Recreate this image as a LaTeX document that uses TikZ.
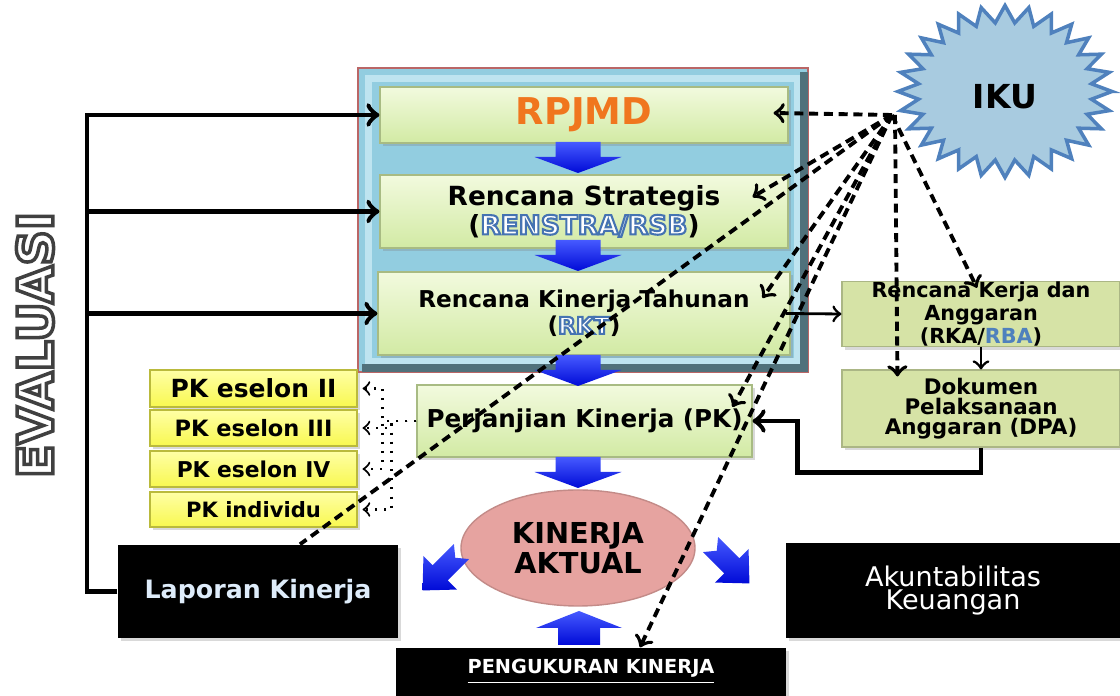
\documentclass[tikz,border=0pt]{standalone}
\usepackage{fontspec}
\setmainfont{DejaVu Sans}
\newcommand{\hollowtext}[2]{{\color{white}\special{pdf:literal direct 2 Tr #1}#2\special{pdf:literal direct 0 Tr}}}
\definecolor{evalframe}{RGB}{146,205,224}
\definecolor{evalframein}{RGB}{190,228,240}
\definecolor{planlight}{RGB}{242,250,222}
\definecolor{plandark}{RGB}{210,234,164}
\definecolor{budgetgreen}{RGB}{214,227,166}
\definecolor{pkyellow}{RGB}{248,248,80}
\definecolor{pkyellowlight}{RGB}{255,255,165}
\definecolor{kinerjapink}{RGB}{230,163,160}
\definecolor{ikublue}{RGB}{168,203,224}
\definecolor{ikuline}{RGB}{79,129,189}
\definecolor{rpjmdorange}{RGB}{240,118,30}
\definecolor{rbablue}{RGB}{79,129,189}
\definecolor{arrowtop}{RGB}{70,90,255}
\definecolor{arrowbottom}{RGB}{0,10,215}
\definecolor{reportblue}{RGB}{222,236,250}
\usetikzlibrary{shapes,arrows,positioning,calc,shadows}

\begin{document}
\begin{tikzpicture}[
    every node/.style={align=center, inner sep=0pt},
    soft shadow/.style={drop shadow={opacity=0.3, shadow xshift=0.03cm, shadow yshift=-0.03cm}},
    frame/.style={fill=evalframe, draw=red!55!black!60, line width=0.6pt, minimum width=4.5cm, minimum height=3.04cm},
    planbox/.style={soft shadow, top color=planlight, bottom color=plandark, draw=plandark!80!black, line width=0.3pt, minimum width=4.08cm},
    budgetbox/.style={soft shadow, fill=budgetgreen, draw=budgetgreen!80!black, line width=0.3pt, minimum width=2.78cm},
    pkbox/.style={soft shadow, top color=pkyellowlight, bottom color=pkyellow, draw=pkyellow!75!black, line width=0.3pt, minimum width=2.07cm},
    reportbox/.style={soft shadow, fill=black},
    bluearrow/.style={top color=arrowtop, bottom color=arrowbottom},
    evline/.style={line width=1.4pt, ->},
    ikulink/.style={line width=1.1pt, dash pattern=on 2.6pt off 1.6pt, ->},
    pkdot/.style={line width=0.6pt, dotted, ->}
]
    \useasboundingbox (0,0) rectangle (11.2,6.96);

    \node[frame] (frame) at (5.83,4.76) {};
    \draw[evalframein, line width=2pt] ($(frame.south west)+(0.12,0.12)$) rectangle ($(frame.north east)+(-0.12,-0.12)$);
    \draw[evalframe!55!black, line width=2.5pt] ($(frame.north east)+(-0.05,-0.05)$) -- ($(frame.south east)+(-0.05,0.05)$) -- ($(frame.south west)+(0.05,0.05)$);

    \node[planbox, minimum height=0.56cm, text=rpjmdorange, font={\bfseries\fontsize{10.5}{12}\selectfont}] (rpjmd) at (5.84,5.81) {RPJMD};
    \node[planbox, minimum height=0.73cm, font={\bfseries\fontsize{7.5}{7.3}\selectfont}] (renstra) at (5.84,4.845)
        {Rencana Strategis\\(\hollowtext{0.6 w 0.27 0.45 0.70 RG}{RENSTRA/RSB})};
    \node[planbox, minimum width=4.12cm, minimum height=0.83cm, font={\bfseries\fontsize{6.6}{6.4}\selectfont}] (rkt) at (5.84,3.825)
        {Rencana Kinerja Tahunan\\(\hollowtext{0.6 w 0.27 0.45 0.70 RG}{RKT})};
    \node[planbox, minimum width=3.35cm, minimum height=0.72cm, font={\bfseries\fontsize{7}{8}\selectfont}] (pk) at (5.845,2.75)
        {Perjanjian Kinerja (PK)};

    \foreach \y in {5.54,4.56,3.41,2.39}
        \shade[bluearrow] (5.555,\y) -- ++(0.45,0) -- ++(0,-0.15) -- ++(0.21,0) -- ++(-0.435,-0.16) -- ++(-0.435,0.16) -- ++(0.21,0) -- cycle;

    \node[ellipse, fill=kinerjapink, draw=kinerjapink!85!black, line width=0.4pt, minimum width=2.34cm, minimum height=1.16cm,
        font={\bfseries\fontsize{8.2}{7.1}\selectfont}] (aktual) at (5.78,1.48) {KINERJA\\AKTUAL};

    \node[reportbox, minimum width=2.8cm, minimum height=0.93cm, text=reportblue, font={\bfseries\fontsize{7.2}{8}\selectfont}] (laporan) at (2.58,1.045) {Laporan Kinerja};
    \node[reportbox, minimum width=3.34cm, minimum height=0.95cm, text=white, font={\fontsize{7.7}{6.8}\selectfont}] (akuntabilitas) at (9.53,1.055) {Akuntabilitas\\Keuangan};
    \node[reportbox, minimum width=3.9cm, minimum height=0.48cm, text=white, font={\bfseries\fontsize{5.5}{6}\selectfont}] (pengukuran) at (5.91,0.24) {\underline{PENGUKURAN KINERJA}};

    \shade[bluearrow] (5.58,0.51) -- ++(0.42,0) -- ++(0,0.17) -- ++(0.22,0) -- ++(-0.43,0.17) -- ++(-0.43,-0.17) -- ++(0.22,0) -- cycle;
    \begin{scope}[shift={(4.42,1.25)}, rotate=-135, scale=1.25]
        \shade[bluearrow] (-0.22,0.085) -- (0.02,0.085) -- (0.02,0.19) -- (0.22,0) -- (0.02,-0.19) -- (0.02,-0.085) -- (-0.22,-0.085) -- (-0.15,0) -- cycle;
    \end{scope}
    \begin{scope}[shift={(7.30,1.32)}, rotate=-45, scale=1.25]
        \shade[bluearrow] (-0.22,0.085) -- (0.02,0.085) -- (0.02,0.19) -- (0.22,0) -- (0.02,-0.19) -- (0.02,-0.085) -- (-0.22,-0.085) -- (-0.15,0) -- cycle;
    \end{scope}

    \node[budgetbox, minimum height=0.62cm, font={\bfseries\fontsize{5.9}{4.8}\selectfont}] (rka) at (9.81,3.82)
        {Rencana Kerja dan\\Anggaran\\(RKA/{\color{rbablue}RBA})};
    \node[budgetbox, minimum height=0.77cm, font={\bfseries\fontsize{6.1}{5.6}\selectfont}] (dpa) at (9.81,2.875)
        {Dokumen\\Pelaksanaan\\Anggaran (DPA)};

    \node[pkbox, minimum height=0.37cm, font={\bfseries\fontsize{7.1}{8}\selectfont}] (eselon2) at (2.535,3.075) {PK eselon II};
    \node[pkbox, minimum height=0.36cm, font={\bfseries\fontsize{6.4}{7}\selectfont}] (eselon3) at (2.535,2.68) {PK eselon III};
    \node[pkbox, minimum height=0.36cm, font={\bfseries\fontsize{6.2}{7}\selectfont}] (eselon4) at (2.535,2.27) {PK eselon IV};
    \node[pkbox, minimum height=0.35cm, font={\bfseries\fontsize{6}{7}\selectfont}] (individu) at (2.535,1.865) {PK individu};

    \node[rotate=90, font={\bfseries\fontsize{14}{16}\selectfont}] (evaluasi) at (0.35,3.51)
        {\hollowtext{1 w 0.25 0.25 0.25 RG}{EVALUASI}};

    \filldraw[fill=ikublue, draw=ikuline, line width=1pt] (11.12,6.045)
        \foreach \k in {0,...,27} { -- ($(10.05,6.045)+({\k*360/28}:1.07 and 0.86)$) -- ($(10.05,6.045)+({(\k+0.5)*360/28}:0.87 and 0.69)$) } -- cycle;
    \node[font={\bfseries\fontsize{9.4}{11}\selectfont}] (iku) at (10.05,5.99) {IKU};
    \coordinate (ikuhub) at (8.92,5.81);

    \coordinate (evx) at (0.87,1.045);
    \draw[evline] (laporan.west) -- (evx) |- (rpjmd.west);
    \draw[evline] (evx) |- (renstra.west);
    \draw[evline] (evx) |- (rkt.west);

    \draw[line width=0.8pt, ->] ($(rkt.east)+(-0.05,0)$) -- (rka.west);
    \draw[line width=0.8pt, ->] (rka.south) -- (dpa.north);
    \draw[evline] (dpa.south) -- ++(0,-0.25) -| ($(pk.east)+(0.45,0)$) -- (pk.east);

    \draw[pkdot] (pk.west) -- ++(-0.34,0) |- ($(eselon2.east)+(0.05,0)$);
    \draw[pkdot] (pk.west) -- ++(-0.25,0) |- ($(eselon3.east)+(0.05,0)$);
    \draw[pkdot] (pk.west) -- ++(-0.34,0) |- ($(eselon4.east)+(0.05,0)$);
    \draw[pkdot] (pk.west) -- ++(-0.25,0) |- ($(individu.east)+(0.05,0)$);

    \draw[ikulink] (ikuhub) -- ($(rpjmd.east)+(-0.15,0.02)$);
    \draw[ikulink] (ikuhub) -- ($(renstra.east)+(-0.36,0.145)$);
    \draw[ikulink] (ikuhub) -- ($(rkt.east)+(-0.28,0.155)$);
    \draw[ikulink] (ikuhub) -- ($(pk.east)+(-0.20,0.14)$);
    \draw[ikulink] (ikuhub) -- ($(pengukuran.north)+(0.49,0)$);
    \draw[ikulink, -] (ikuhub) -- ($(laporan.north)+(0.42,0)$);
    \draw[ikulink] ($(ikuhub)+(0.03,0)$) -- ($(dpa.north west)+(0.56,-0.07)$);
    \draw[ikulink] (ikuhub) -- ($(rka.north)+(-0.04,-0.07)$);
\end{tikzpicture}
\end{document}
